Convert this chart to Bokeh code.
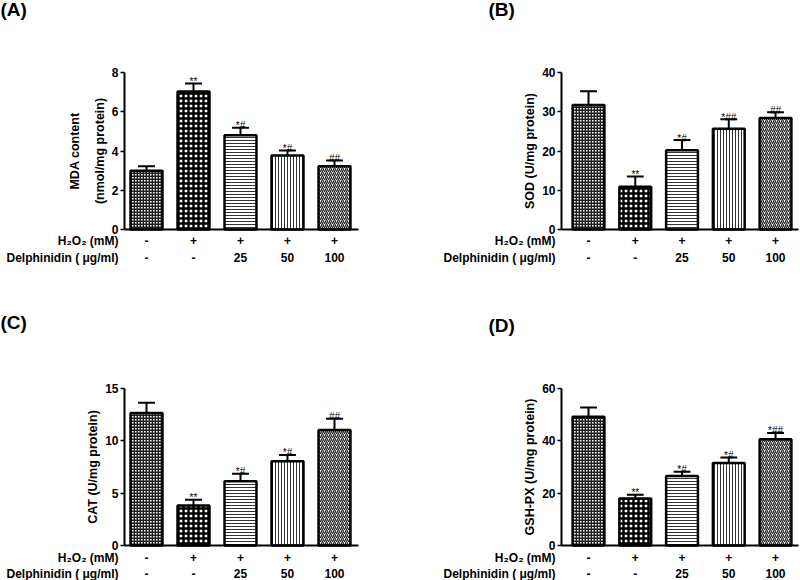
from bokeh.plotting import figure
from bokeh.models import (ColumnDataSource, Range1d, FixedTicker, LinearAxis, CDSView, IndexFilter)
from bokeh.layouts import column, row
from bokeh.embed import file_html
from bokeh.resources import INLINE
from bokeh.core.properties import value

# ---------------- data ----------------
groups = [1, 2, 3, 4, 5]
h2o2_labels = ["-", "+", "+", "+", "+"]
delph_labels = ["-", "-", "25", "50", "100"]
row_titles = ["H₂O₂ (mM)", "Delphinidin ( μg/ml)"]

mda_mean = [3.0, 7.03, 4.80, 3.77, 3.22]
mda_err = [0.22, 0.41, 0.39, 0.26, 0.29]
mda_sig = ["", "**", "*#", "*#", "##"]
mda_ticks = [0, 2, 4, 6, 8]

sod_mean = [31.7, 10.9, 20.2, 25.7, 28.4]
sod_err = [3.5, 2.6, 2.6, 2.4, 1.5]
sod_sig = ["", "**", "*#", "*##", "##"]
sod_ticks = [0, 10, 20, 30, 40]

cat_mean = [12.65, 3.83, 6.13, 8.04, 11.04]
cat_err = [1.0, 0.54, 0.73, 0.61, 1.06]
cat_sig = ["", "**", "*#", "*#", "##"]
cat_ticks = [0, 5, 10, 15]

gsh_mean = [49.2, 18.0, 26.6, 31.5, 40.6]
gsh_err = [3.5, 1.4, 1.6, 2.1, 2.4]
gsh_sig = ["", "**", "*#", "*#", "*##"]
gsh_ticks = [0, 20, 40, 60]

# ---------------- style ----------------
FONT = "Liberation Sans"
BAR_STYLES = [
    dict(hatch_pattern="cross", hatch_scale=3, hatch_weight=1.8, hatch_color="#1e1e1e"),
    dict(hatch_pattern="cross", hatch_scale=5, hatch_weight=2.4, hatch_color="#000000"),
    dict(hatch_pattern="horizontal_line", hatch_scale=3, hatch_weight=1, hatch_color="#333333"),
    dict(hatch_pattern="vertical_line", hatch_scale=3, hatch_weight=1, hatch_color="#333333"),
    dict(hatch_pattern="right_diagonal_line", hatch_scale=4, hatch_weight=1.3, hatch_color="#222222"),
]

W, H = 400, 290


def make_panel(letter, ylabel, means, errs, sig, ticks, geom):
    ax_x, ax_bottom, ax_top, ux, xstart, xend, rows, letter_px = geom
    ymax = ticks[-1]
    uy = (ax_bottom - ax_top) / ymax
    xr = (xstart - ax_x / ux, xstart + (W - ax_x) / ux)
    yr = (-(H - ax_bottom) / uy, ymax + ax_top / uy)

    p = figure(width=W, height=H, output_backend="svg", toolbar_location=None, title=None,
               x_range=Range1d(*xr), y_range=Range1d(*yr),
               x_axis_location=None, y_axis_location=None,
               min_border_left=0, min_border_right=0, min_border_top=0, min_border_bottom=0)
    p.outline_line_color = None
    p.grid.visible = False
    p.background_fill_color = "white"
    p.border_fill_color = "white"

    tops = [m + e for m, e in zip(means, errs)]
    src = ColumnDataSource(dict(x=groups, top=means, etop=tops, sig=sig,
                                x0=[g - 0.18 for g in groups], x1=[g + 0.18 for g in groups]))

    # error bars (upper only, with cap)
    p.segment(x0="x", y0="top", x1="x", y1="etop", source=src, line_color="black", line_width=2)
    p.segment(x0="x0", y0="etop", x1="x1", y1="etop", source=src, line_color="black", line_width=2)

    # bars, one hatch style per treatment group
    for i, st in enumerate(BAR_STYLES):
        p.vbar(x="x", top="top", bottom=0, width=0.68, source=src,
               view=CDSView(filter=IndexFilter([i])),
               fill_color="white", line_color="black", line_width=2.5, **st)

    # significance marks
    p.text(x="x", y="etop", text="sig", source=src, text_align="center",
           text_baseline="alphabetic", y_offset=-2, text_font=value(FONT),
           text_font_size="10px", text_color="black")

    # y axis drawn at the start of the bar axis
    ya = LinearAxis(fixed_location=xstart, bounds=(0, ymax), ticker=FixedTicker(ticks=ticks))
    ya.axis_line_width = 2
    ya.axis_line_color = "black"
    ya.major_tick_line_width = 1.5
    ya.major_tick_line_color = "black"
    ya.major_tick_out = 4
    ya.major_tick_in = 0
    ya.minor_tick_line_color = None
    ya.major_label_standoff = 2
    ya.major_label_text_font = FONT
    ya.major_label_text_font_style = "bold"
    ya.major_label_text_font_size = "12px"
    ya.major_label_text_color = "black"
    ya.axis_label = ylabel
    ya.axis_label_text_font = FONT
    ya.axis_label_text_font_style = "bold"
    ya.axis_label_text_font_size = "12.5px"
    ya.axis_label_text_color = "black"
    ya.axis_label_text_line_height = 1.75
    ya.axis_label_standoff = 2
    p.add_layout(ya, "left")

    # x axis line
    xa = LinearAxis(fixed_location=0, bounds=(xstart, xend), ticker=FixedTicker(ticks=[]))
    xa.axis_line_width = 2
    xa.axis_line_color = "black"
    xa.major_tick_line_color = None
    xa.minor_tick_line_color = None
    xa.major_label_text_font_size = "0px"
    p.add_layout(xa, "below")

    # treatment rows below the axis
    r1, r2 = rows
    y1 = -r1 / uy
    y2 = -r2 / uy
    lab = ColumnDataSource(dict(x=groups + groups, y=[y1] * 5 + [y2] * 5,
                                t=h2o2_labels + delph_labels))
    p.text(x="x", y="y", text="t", source=lab, text_align="center", text_baseline="middle",
           text_font=value(FONT), text_font_style="bold", text_font_size="12px",
           text_color="black")

    xt = xstart - 6 / ux
    tit = ColumnDataSource(dict(x=[xt, xt], y=[y1, y2], t=row_titles))
    p.text(x="x", y="y", text="t", source=tit, text_align="right", text_baseline="middle",
           text_font=value(FONT), text_font_style="bold", text_font_size="12px",
           text_color="black")

    # panel letter
    lx, ly = letter_px
    p.text(x=[xr[0] + lx / ux], y=[ymax + (ax_top - ly) / uy], text=[letter],
           text_align="left", text_baseline="middle", text_font=value(FONT),
           text_font_style="bold", text_font_size="19px", text_color="black")
    return p


# geometry (canvas px): axis x, axis bottom, axis top, px per group, x start, x end, rows, letter
gA = (124, 229, 72, 47.0, 0.532, 5.51, (11, 28), (0, 9))
gB = (161, 229, 72, 46.75, 0.422, 5.49, (11, 28), (88, 9))
gC = (124, 255, 98, 47.0, 0.532, 5.51, (12, 28), (0, 32))
gD = (161, 255, 98, 46.75, 0.422, 5.49, (12, 28), (88, 35))

pA = make_panel("(A)", "MDA content\n(nmol/mg protein)", mda_mean, mda_err, mda_sig, mda_ticks, gA)
pB = make_panel("(B)", "SOD (U/mg protein)", sod_mean, sod_err, sod_sig, sod_ticks, gB)
pC = make_panel("(C)", "CAT (U/mg protein)", cat_mean, cat_err, cat_sig, cat_ticks, gC)
pD = make_panel("(D)", "GSH-PX (U/mg protein)", gsh_mean, gsh_err, gsh_sig, gsh_ticks, gD)

layout = column(row(pA, pB), row(pC, pD))

with open("out.html", "w") as f:
    f.write(file_html(layout, INLINE))
